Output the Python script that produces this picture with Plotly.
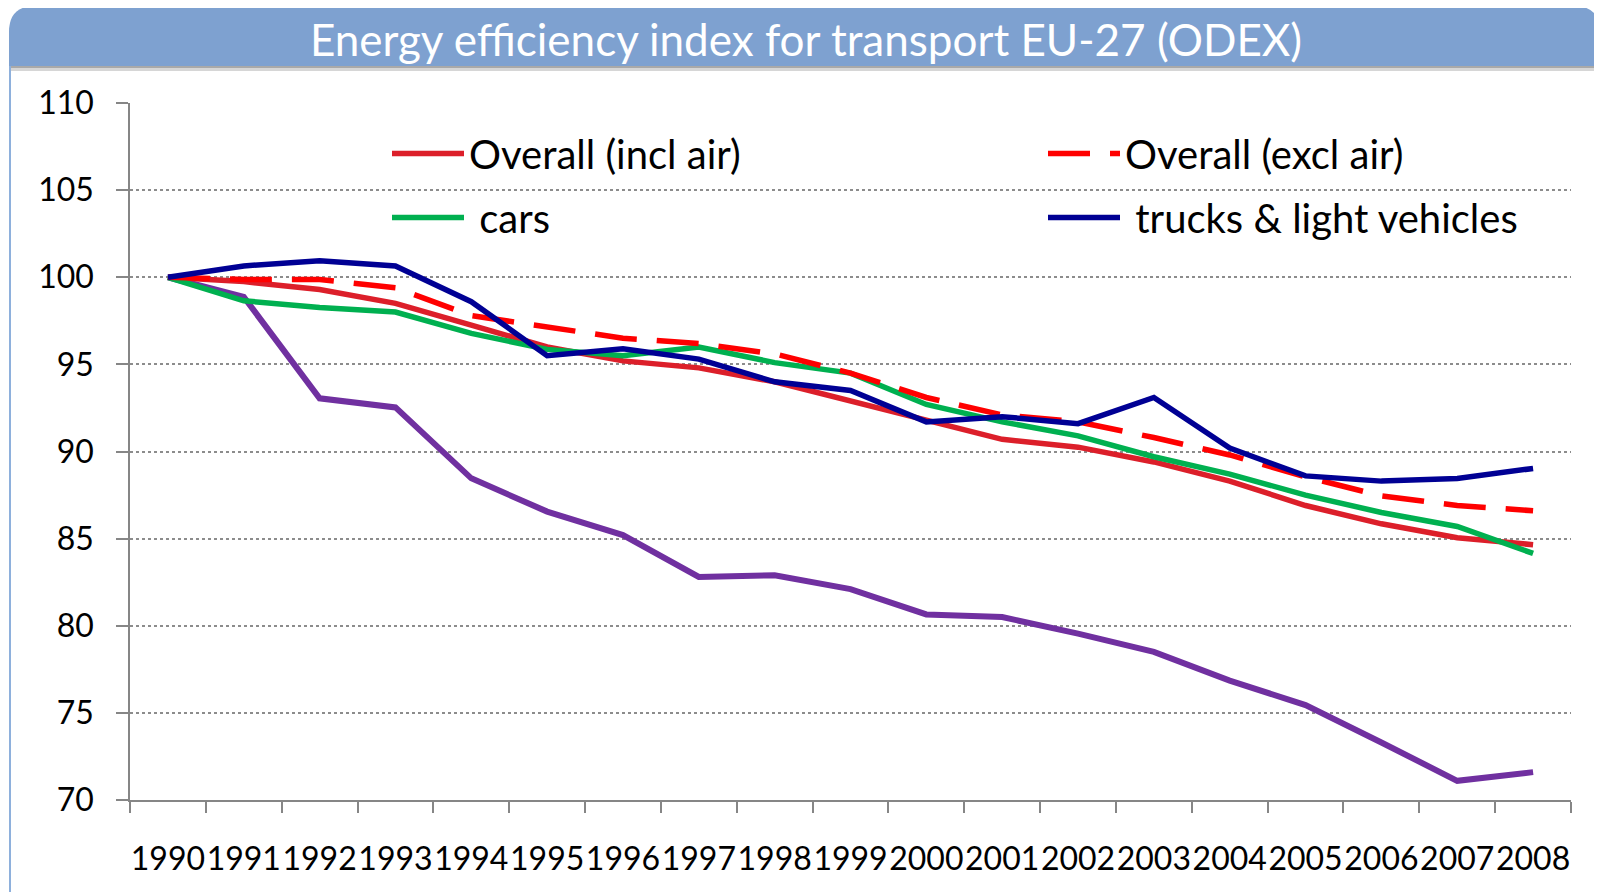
import plotly.graph_objects as go

years = [str(y) for y in range(1990, 2009)]
overall_incl_air = [100, 99.75, 99.3, 98.5, 97.25, 96.0, 95.2, 94.8, 94.0, 92.9, 91.8, 90.7, 90.25, 89.4, 88.3, 86.9, 85.85, 85.05, 84.65]
overall_excl_air = [100, 99.87, 99.87, 99.4, 97.8, 97.15, 96.5, 96.2, 95.6, 94.5, 93.1, 92.1, 91.7, 90.8, 89.8, 88.55, 87.45, 86.9, 86.6]
cars = [100, 98.65, 98.27, 98.0, 96.78, 95.86, 95.5, 96.0, 95.1, 94.5, 92.7, 91.7, 90.9, 89.7, 88.7, 87.5, 86.5, 85.7, 84.15]
trucks = [100, 100.65, 100.94, 100.65, 98.6, 95.5, 95.9, 95.3, 94.0, 93.5, 91.7, 92.0, 91.6, 93.1, 90.2, 88.6, 88.3, 88.45, 89.03]
air = [100, 98.87, 93.05, 92.53, 88.46, 86.55, 85.2, 82.8, 82.9, 82.1, 80.65, 80.5, 79.55, 78.5, 76.85, 75.45, 73.3, 71.1, 71.6]
yticks = [70, 75, 80, 85, 90, 95, 100, 105, 110]

# page is offset by the default 8px body margin
OFF = 8
W, H = 1602 - OFF, 892 - OFF
# plot-area in page coordinates
L, R, T, B = 130, 1571, 103, 800
PW, PH = R - L, B - T

def px(x):
    return (x - L) / PW

def py(y):
    return (B - y) / PH

FONT = "Lato"

fig = go.Figure()
fig.add_trace(go.Scatter(x=years, y=air, mode="lines", name="air", showlegend=False,
                         line=dict(color="#7030A0", width=6)))
fig.add_trace(go.Scatter(x=years, y=overall_incl_air, mode="lines", name="Overall (incl air)", legend="legend",
                         legendgroup="a", legendrank=1,
                         line=dict(color="#DC1F2A", width=5.5)))
fig.add_trace(go.Scatter(x=years, y=cars, mode="lines", name=" cars", legend="legend", legendgroup="c", legendrank=2,
                         line=dict(color="#00B050", width=5.5)))
fig.add_trace(go.Scatter(x=years, y=overall_excl_air, mode="lines", name="Overall (excl air)", legend="legend2",
                         legendgroup="b", legendrank=1,
                         line=dict(color="#FF0000", width=5.5, dash="42px,20px")))
fig.add_trace(go.Scatter(x=years, y=trucks, mode="lines", name=" trucks & light vehicles", legend="legend2",
                         legendgroup="d", legendrank=2,
                         line=dict(color="#000094", width=5.5)))

# title bar (page coordinates)
x0, x1 = px(9), px(1600)
yt, yb = py(6), py(66)
rx, ry = 26 / PW, 26 / PH
path = (f"M{x0},{yb} L{x0},{yt - ry} Q{x0},{yt} {x0 + rx},{yt} "
        f"L{x1 - rx},{yt} Q{x1},{yt} {x1},{yt - ry} L{x1},{yb} Z")
shapes = [
    dict(type="rect", xref="paper", yref="paper", x0=px(9), x1=px(1600), y0=py(71), y1=py(66),
         fillcolor="#D6D6D6", line=dict(width=0), layer="below"),
    dict(type="rect", xref="paper", yref="paper", x0=px(9), x1=px(1600), y0=py(68), y1=py(66),
         fillcolor="#A9A9A9", line=dict(width=0), layer="below"),
    dict(type="path", xref="paper", yref="paper", path=path, fillcolor="#7EA1D0",
         line=dict(width=0), layer="below"),
    dict(type="line", xref="paper", yref="paper", x0=px(10), x1=px(10), y0=py(66), y1=py(900),
         line=dict(color="#8EB0DC", width=2)),
    dict(type="line", xref="paper", yref="paper", x0=px(1600), x1=px(1600), y0=py(66), y1=py(900),
         line=dict(color="#8EB0DC", width=2)),
]

leg_common = dict(orientation="v", bgcolor="rgba(0,0,0,0)", font=dict(family=FONT, size=40, color="black"),
                  itemwidth=72, tracegroupgap=9, yanchor="top", xanchor="left", traceorder="grouped")

fig.update_layout(
    width=W, height=H,
    paper_bgcolor="white", plot_bgcolor="white",
    margin=dict(l=L - OFF, r=1602 - R, t=T - OFF, b=892 - B),
    shapes=shapes,
    title=dict(text="Energy efficiency index for transport EU-27 (ODEX)", x=(806 - OFF) / W, xanchor="center",
               y=1 - (41 - OFF) / H, yanchor="middle", font=dict(family=FONT, size=44, color="white")),
    legend=dict(x=px(387), y=py(121), **leg_common),
    legend2=dict(x=px(1043), y=py(121), **leg_common),
    xaxis=dict(type="category", range=[-0.5, 18.5], tickson="boundaries", ticks="outside", ticklen=11,
               tickwidth=1.5, tickcolor="#868686", showline=True, linecolor="#868686", linewidth=1.5,
               showgrid=False, tickfont=dict(family=FONT, size=32, color="black"), ticklabelstandoff=30,
               tickangle=0),
    yaxis=dict(range=[70, 110], tickvals=yticks, ticks="outside", ticklen=12, tickwidth=1.5,
               tickcolor="#868686", showline=True, linecolor="#868686", linewidth=1.5,
               showgrid=True, gridcolor="#8C8C8C", gridwidth=1.5, griddash="dot", zeroline=False,
               tickfont=dict(family=FONT, size=32, color="black"), ticklabelstandoff=16),
)

fig.write_html("out.html")
